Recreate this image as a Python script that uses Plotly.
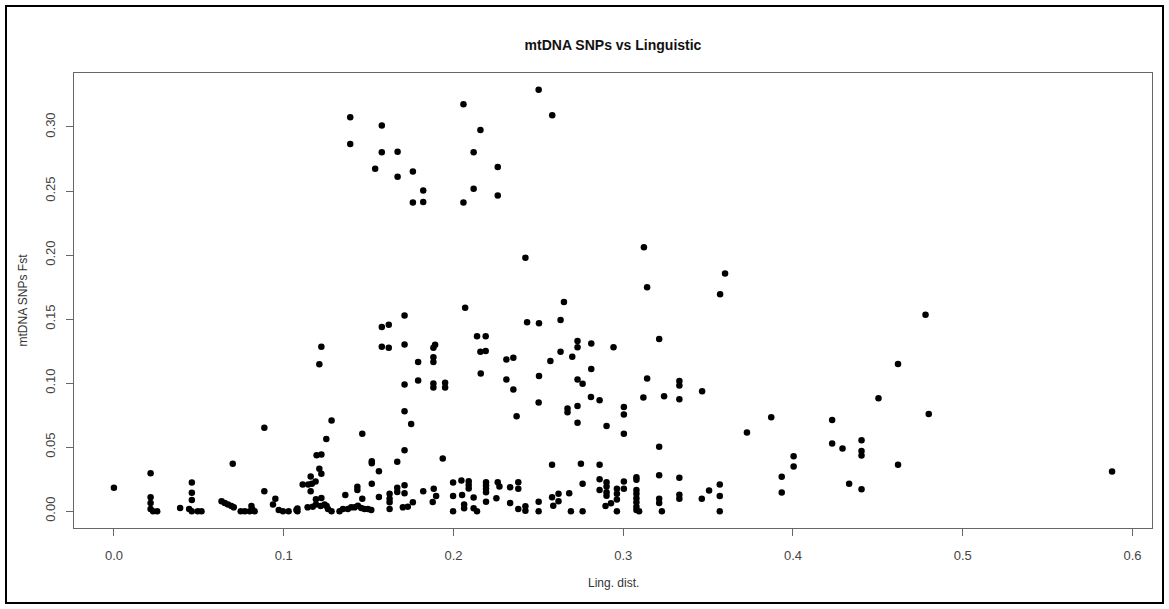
import plotly.graph_objects as go

# Linguistic distance (x) and mtDNA SNPs Fst (y)
ling_dist = [
    0.1392, 0.1392, 0.1578, 0.1578, 0.1671, 0.1539, 0.1671, 0.1761, 0.1822, 0.1761,
    0.1822, 0.2059, 0.2159, 0.2119, 0.2261, 0.2119, 0.2261, 0.2059, 0.2502, 0.2582,
    0.1222, 0.1210, 0.1578, 0.1619, 0.1712, 0.1578, 0.1619, 0.1712, 0.1892, 0.1882,
    0.1882, 0.1882, 0.1792, 0.1712, 0.1792, 0.1882, 0.1882, 0.1951, 0.1951,
    0.2424, 0.2069, 0.2651, 0.2434, 0.2504, 0.2631, 0.2139, 0.2190, 0.2159, 0.2190,
    0.2312, 0.2353, 0.2731, 0.2731, 0.2812, 0.2631, 0.2700, 0.2571, 0.2812, 0.2161,
    0.2312, 0.2504, 0.2731, 0.2761, 0.2353,
    0.3122, 0.3600, 0.3141, 0.3571, 0.3212, 0.2943, 0.3141, 0.3331, 0.3331, 0.3465,
    0.1712, 0.1751, 0.1282, 0.1463, 0.1251, 0.1194, 0.1222, 0.1712, 0.1519, 0.1519,
    0.1669, 0.1937, 0.1561, 0.1210, 0.1222, 0.1159, 0.1188, 0.1112, 0.1145, 0.1166,
    0.1159, 0.1434, 0.1434, 0.1519, 0.1363, 0.1561, 0.1669, 0.1669, 0.1712, 0.1712,
    0.1624, 0.1624, 0.1822, 0.1884, 0.1898, 0.1878, 0.1463, 0.1190, 0.1222, 0.1190,
    0.1218, 0.1253, 0.1081, 0.1081, 0.1141, 0.1171, 0.1241, 0.1261, 0.1282, 0.1329,
    0.1349, 0.1378, 0.1398, 0.1418, 0.1437, 0.1457, 0.1476, 0.1496, 0.1516, 0.1624,
    0.1624, 0.1702, 0.1731, 0.1761,
    0.0000, 0.0216, 0.0216, 0.0216, 0.0216, 0.0231, 0.0255, 0.0390, 0.0443, 0.0459,
    0.0459, 0.0459, 0.0459, 0.0494, 0.0516, 0.0700, 0.0634, 0.0653, 0.0672, 0.0692,
    0.0706, 0.0747, 0.0771, 0.0810, 0.0816, 0.0829, 0.0800, 0.0886, 0.0886, 0.0951,
    0.0937, 0.0971, 0.0996, 0.1029, 0.1075,
    0.2502, 0.2372, 0.2672, 0.2672, 0.2731, 0.2731, 0.2581, 0.2751, 0.2761, 0.1998,
    0.2047, 0.2090, 0.2090, 0.2090, 0.2192, 0.2192, 0.2192, 0.2192, 0.2261, 0.2271,
    0.2334, 0.2382, 0.2382, 0.1998, 0.2051, 0.2119, 0.2192, 0.2253, 0.2334, 0.2063,
    0.2063, 0.2119, 0.2139, 0.1998, 0.2382, 0.2424, 0.2424, 0.2502, 0.2502, 0.2581,
    0.2588, 0.2619, 0.2619, 0.2682, 0.2692, 0.2761,
    0.2810, 0.2861, 0.3331, 0.3119, 0.3241, 0.3004, 0.3004, 0.2902, 0.3004, 0.3212,
    0.2861, 0.3212, 0.3331, 0.2861, 0.2902, 0.2902, 0.3004, 0.3078, 0.3078, 0.2861,
    0.2902, 0.2902, 0.2963, 0.2963, 0.2963, 0.3004, 0.3078, 0.3078, 0.3078, 0.3078,
    0.3078, 0.3078, 0.3094, 0.2928, 0.2896, 0.2963, 0.3212, 0.3212, 0.3228, 0.3331,
    0.3331, 0.3463, 0.3506, 0.3569, 0.3569, 0.3569,
    0.4781, 0.4619, 0.4504, 0.4800, 0.3872, 0.4231, 0.4231, 0.4292, 0.4404, 0.4404,
    0.4404, 0.4004, 0.4004, 0.3934, 0.3934, 0.4619, 0.4331, 0.4404, 0.3729, 0.5880,
]

fst = [
    0.3076, 0.2867, 0.3011, 0.2802, 0.2807, 0.2674, 0.2611, 0.2653, 0.2504, 0.2410,
    0.2415, 0.3178, 0.2976, 0.2802, 0.2687, 0.2517, 0.2465, 0.2410, 0.3290, 0.3092,
    0.1284, 0.1148, 0.1438, 0.1456, 0.1527, 0.1284, 0.1276, 0.1302, 0.1299, 0.1276,
    0.1201, 0.1164, 0.1164, 0.0989, 0.1020, 0.0997, 0.0966, 0.1002, 0.0966,
    0.1979, 0.1589, 0.1634, 0.1475, 0.1467, 0.1493, 0.1365, 0.1365, 0.1245, 0.1250,
    0.1185, 0.1197, 0.1328, 0.1279, 0.1310, 0.1245, 0.1205, 0.1172, 0.1111, 0.1075,
    0.1028, 0.1056, 0.1028, 0.0994, 0.0950,
    0.2060, 0.1856, 0.1749, 0.1694, 0.1344, 0.1279, 0.1036, 0.1017, 0.0981, 0.0937,
    0.0780, 0.0680, 0.0707, 0.0605, 0.0563, 0.0437, 0.0443, 0.0476, 0.0390, 0.0375,
    0.0386, 0.0411, 0.0312, 0.0331, 0.0292, 0.0270, 0.0231, 0.0208, 0.0208, 0.0213,
    0.0155, 0.0190, 0.0166, 0.0213, 0.0127, 0.0111, 0.0182, 0.0150, 0.0202, 0.0139,
    0.0135, 0.0096, 0.0155, 0.0174, 0.0119, 0.0072, 0.0096, 0.0092, 0.0103, 0.0051,
    0.0041, 0.0041, 0.0020, 0.0000, 0.0030, 0.0035, 0.0051, 0.0017, 0.0000, 0.0000,
    0.0017, 0.0017, 0.0030, 0.0030, 0.0043, 0.0025, 0.0017, 0.0017, 0.0009, 0.0069,
    0.0017, 0.0030, 0.0035, 0.0069,
    0.0182, 0.0296, 0.0108, 0.0064, 0.0017, 0.0000, 0.0000, 0.0025, 0.0017, 0.0223,
    0.0143, 0.0088, 0.0000, 0.0000, 0.0000, 0.0370, 0.0077, 0.0064, 0.0051, 0.0041,
    0.0030, 0.0000, 0.0000, 0.0041, 0.0012, 0.0000, 0.0000, 0.0652, 0.0155, 0.0096,
    0.0051, 0.0009, 0.0000, 0.0000, 0.0009,
    0.0848, 0.0741, 0.0801, 0.0772, 0.0821, 0.0691, 0.0362, 0.0370, 0.0213, 0.0223,
    0.0239, 0.0234, 0.0205, 0.0176, 0.0226, 0.0200, 0.0174, 0.0147, 0.0226, 0.0192,
    0.0187, 0.0226, 0.0174, 0.0119, 0.0127, 0.0106, 0.0074, 0.0100, 0.0064, 0.0051,
    0.0022, 0.0022, 0.0000, 0.0000, 0.0017, 0.0038, 0.0004, 0.0074, 0.0000, 0.0108,
    0.0043, 0.0135, 0.0077, 0.0139, 0.0000, 0.0000,
    0.0892, 0.0866, 0.0874, 0.0887, 0.0897, 0.0813, 0.0754, 0.0665, 0.0605, 0.0503,
    0.0362, 0.0281, 0.0260, 0.0249, 0.0226, 0.0192, 0.0231, 0.0265, 0.0245, 0.0166,
    0.0147, 0.0121, 0.0174, 0.0135, 0.0090, 0.0174, 0.0166, 0.0135, 0.0100, 0.0069,
    0.0035, 0.0009, 0.0000, 0.0061, 0.0041, 0.0000, 0.0096, 0.0064, 0.0000, 0.0129,
    0.0096, 0.0096, 0.0161, 0.0208, 0.0119, 0.0000,
    0.1534, 0.1150, 0.0882, 0.0759, 0.0733, 0.0712, 0.0529, 0.0490, 0.0553, 0.0469,
    0.0435, 0.0429, 0.0349, 0.0268, 0.0145, 0.0362, 0.0213, 0.0171, 0.0615, 0.0310,
]

x_ticks = [0.0, 0.1, 0.2, 0.3, 0.4, 0.5, 0.6]
x_tick_text = ["0.0", "0.1", "0.2", "0.3", "0.4", "0.5", "0.6"]
y_ticks = [0.00, 0.05, 0.10, 0.15, 0.20, 0.25, 0.30]
y_tick_text = ["0.00", "0.05", "0.10", "0.15", "0.20", "0.25", "0.30"]

FONT = "Liberation Sans, Arial, sans-serif"
W, H = 1169, 609
L, R, T, B = 74, 1152, 73, 528  # plot box in pixels

# R-style axis limits: data range extended by 4% on each side
def r_range(v):
    lo, hi = min(v), max(v)
    d = (hi - lo) * 0.04
    return [lo - d, hi + d]

fig = go.Figure(
    go.Scatter(
        x=ling_dist, y=fst, mode="markers",
        marker=dict(color="black", size=6.5, line=dict(width=0)),
        showlegend=False, hoverinfo="x+y",
    )
)

pw, ph = R - L, B - T

def px_x(p):
    return (p - L) / pw

def px_y(p):
    return (B - p) / ph

axis_common = dict(
    showgrid=False, zeroline=False, showline=True, mirror=True,
    linecolor="#666666", linewidth=1, ticks="outside", ticklen=7,
    tickcolor="#666666", tickwidth=1,
    tickfont=dict(family=FONT, size=13, color="#444444"),
)

fig.update_layout(
    width=W, height=H,
    margin=dict(l=L, r=W - R, t=T, b=H - B, pad=0),
    paper_bgcolor="white", plot_bgcolor="white",
    xaxis=dict(range=r_range(ling_dist), tickvals=x_ticks, ticktext=x_tick_text,
               ticklabelstandoff=8, **axis_common),
    yaxis=dict(range=r_range(fst), tickvals=y_ticks, ticktext=y_tick_text,
               tickangle=-90, ticklabelstandoff=6, **axis_common),
    title=dict(text="<b>mtDNA SNPs vs Linguistic</b>", x=0.5, xref="paper",
               xanchor="center", y=1 - 45 / H, yref="container", yanchor="middle",
               font=dict(family=FONT, size=14, color="#111111")),
    annotations=[
        dict(text="Ling. dist.", x=0.5, xref="paper", y=px_y(583), yref="paper",
             showarrow=False, xanchor="center", yanchor="middle",
             font=dict(family=FONT, size=12, color="#333333")),
        dict(text="mtDNA SNPs Fst", x=px_x(22), xref="paper", y=0.5, yref="paper",
             showarrow=False, xanchor="center", yanchor="middle", textangle=-90,
             font=dict(family=FONT, size=12, color="#333333")),
    ],
    shapes=[
        dict(type="rect", xref="paper", yref="paper",
             x0=px_x(6), x1=px_x(1163), y0=px_y(603), y1=px_y(6),
             line=dict(color="black", width=2), fillcolor="rgba(0,0,0,0)", layer="above"),
    ],
)

fig.write_html("out.html")
